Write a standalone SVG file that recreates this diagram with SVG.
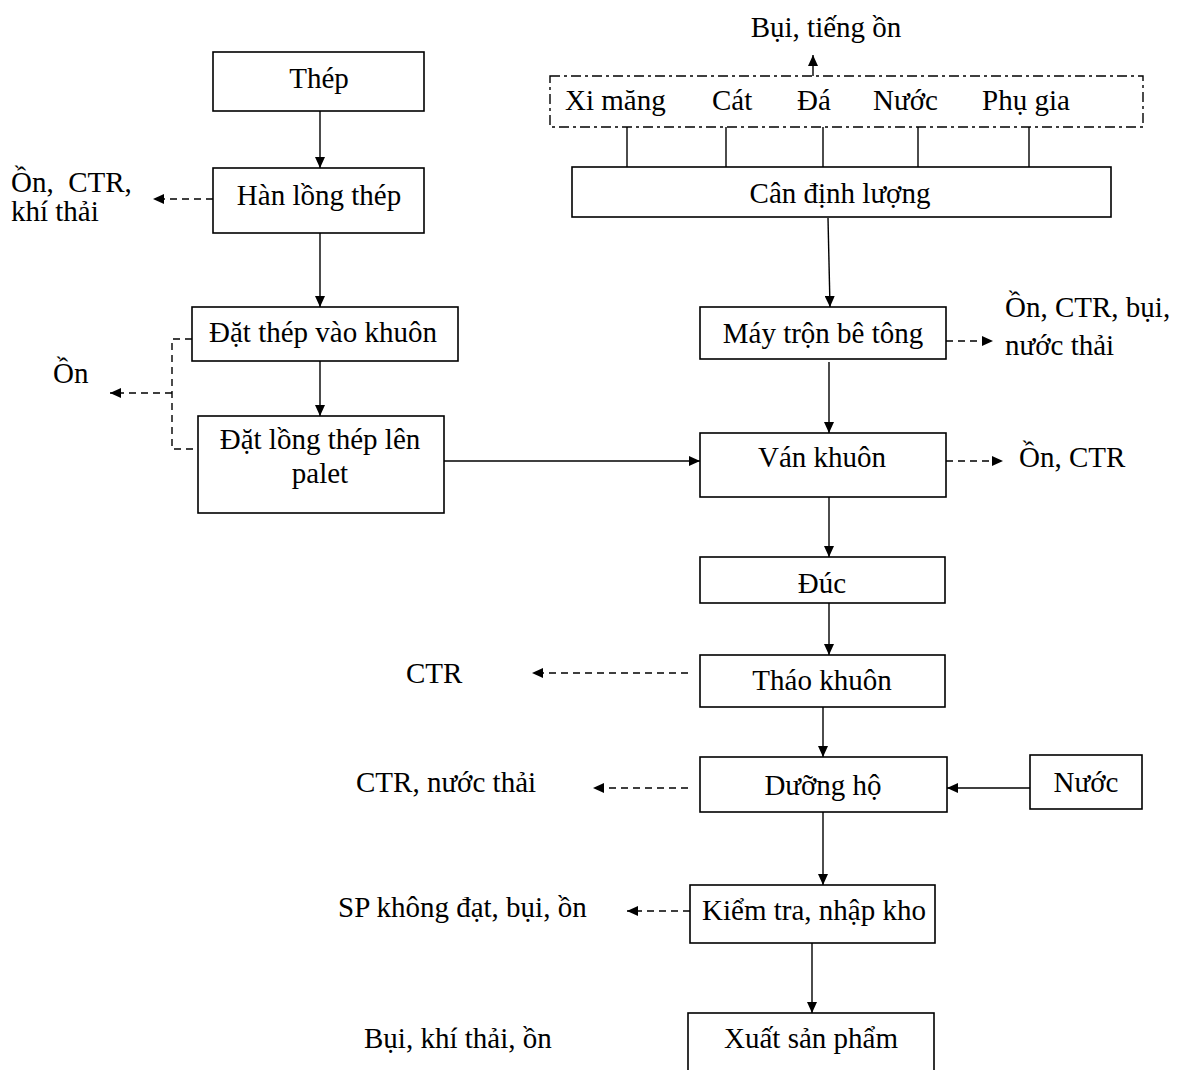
<svg xmlns="http://www.w3.org/2000/svg" width="1185" height="1070" viewBox="0 0 1185 1070">
<style>
.box{fill:#fff;stroke:#000;stroke-width:1.6}
.t{font-family:'Liberation Serif','DejaVu Serif',serif;font-size:29px;fill:#000}
.m{text-anchor:middle}
.ln{fill:none;stroke:#000;stroke-width:1.4}
.ds{fill:none;stroke:#000;stroke-width:1.4;stroke-dasharray:7 5}
.dd{fill:none;stroke:#000;stroke-width:1.4;stroke-dasharray:10 4 3 4}
</style>
<defs>
<marker id="ah" markerUnits="userSpaceOnUse" markerWidth="11" markerHeight="10" refX="11" refY="5" orient="auto">
<path d="M0,0 L11,5 L0,10 z" fill="#000"/>
</marker>
</defs>
<rect width="1185" height="1070" fill="#fff"/>
<g id="connectors">
<line class="ln" x1="320" y1="111" x2="320" y2="168" marker-end="url(#ah)"/>
<line class="ln" x1="320" y1="233" x2="320" y2="307" marker-end="url(#ah)"/>
<line class="ln" x1="320" y1="361" x2="320" y2="416" marker-end="url(#ah)"/>
<line class="ds" x1="213" y1="199" x2="153" y2="199" marker-end="url(#ah)"/>
<polyline class="ds" points="192,339 172,339 172,449 198,449"/>
<line class="ds" x1="172" y1="393" x2="110" y2="393" marker-end="url(#ah)"/>
<line class="ln" x1="444" y1="461" x2="700" y2="461" marker-end="url(#ah)"/>
<line class="ln" x1="813" y1="76" x2="813" y2="55" marker-end="url(#ah)"/>
<line class="ln" x1="627" y1="127" x2="627" y2="167"/>
<line class="ln" x1="726" y1="127" x2="726" y2="167"/>
<line class="ln" x1="823" y1="127" x2="823" y2="167"/>
<line class="ln" x1="918" y1="127" x2="918" y2="167"/>
<line class="ln" x1="1029" y1="127" x2="1029" y2="167"/>
<line class="ln" x1="828" y1="218" x2="830" y2="307" marker-end="url(#ah)"/>
<line class="ds" x1="946" y1="341" x2="993" y2="341" marker-end="url(#ah)"/>
<line class="ln" x1="829" y1="362" x2="829" y2="433" marker-end="url(#ah)"/>
<line class="ds" x1="946" y1="461" x2="1003" y2="461" marker-end="url(#ah)"/>
<line class="ln" x1="829" y1="497" x2="829" y2="557" marker-end="url(#ah)"/>
<line class="ln" x1="829" y1="603" x2="829" y2="655" marker-end="url(#ah)"/>
<line class="ds" x1="688" y1="673" x2="532" y2="673" marker-end="url(#ah)"/>
<line class="ln" x1="823" y1="702" x2="823" y2="757" marker-end="url(#ah)"/>
<line class="ds" x1="688" y1="788" x2="593" y2="788" marker-end="url(#ah)"/>
<line class="ln" x1="1030" y1="788" x2="947" y2="788" marker-end="url(#ah)"/>
<line class="ln" x1="823" y1="812" x2="823" y2="885" marker-end="url(#ah)"/>
<line class="ds" x1="690" y1="911" x2="627" y2="911" marker-end="url(#ah)"/>
<line class="ln" x1="812" y1="943" x2="812" y2="1013" marker-end="url(#ah)"/>
</g>
<g id="thep"><rect class="box" x="213" y="52" width="211" height="59"/><text class="t m" x="319" y="88">Thép</text></g>
<g id="han"><rect class="box" x="213" y="168" width="211" height="65"/><text class="t m" x="319" y="205">Hàn lồng thép</text></g>
<g id="han-out"><text class="t" x="11" y="192" xml:space="preserve">Ồn,  CTR,</text><text class="t" x="11" y="221">khí thải</text></g>
<g id="dat-thep"><rect class="box" x="192" y="307" width="266" height="54"/><text class="t m" x="323" y="342">Đặt thép vào khuôn</text></g>
<g id="on-left"><text class="t" x="53" y="383">Ồn</text></g>
<g id="dat-long"><rect class="box" x="198" y="416" width="246" height="97"/><text class="t m" x="320" y="449">Đặt lồng thép lên</text><text class="t m" x="320" y="483">palet</text></g>
<g id="bui-tieng-on"><text class="t m" x="826" y="37">Bụi, tiếng ồn</text></g>
<g id="nguyen-lieu"><rect x="550" y="76" width="593" height="51" fill="none" class="dd"/>
<text class="t" x="565" y="110">Xi măng</text><text class="t" x="712" y="110">Cát</text><text class="t" x="797" y="110">Đá</text><text class="t" x="873" y="110">Nước</text><text class="t" x="982" y="110">Phụ gia</text></g>
<g id="can"><rect class="box" x="572" y="167" width="539" height="50"/><text class="t m" x="840" y="203">Cân định lượng</text></g>
<g id="may-tron"><rect class="box" x="700" y="307" width="246" height="52"/><text class="t m" x="823" y="343">Máy trộn bê tông</text></g>
<g id="may-tron-out"><text class="t" x="1005" y="317">Ồn, CTR, bụi,</text><text class="t" x="1005" y="355">nước thải</text></g>
<g id="van-khuon"><rect class="box" x="700" y="433" width="246" height="64"/><text class="t m" x="822" y="467">Ván khuôn</text></g>
<g id="van-khuon-out"><text class="t" x="1019" y="467">Ồn, CTR</text></g>
<g id="duc"><rect class="box" x="700" y="557" width="245" height="46"/><text class="t m" x="822" y="593">Đúc</text></g>
<g id="thao-khuon"><rect class="box" x="700" y="655" width="245" height="52"/><text class="t m" x="822" y="690">Tháo khuôn</text></g>
<g id="ctr"><text class="t" x="406" y="683">CTR</text></g>
<g id="duong-ho"><rect class="box" x="700" y="757" width="247" height="55"/><text class="t m" x="823" y="795">Dưỡng hộ</text></g>
<g id="ctr-nuoc-thai"><text class="t" x="356" y="792">CTR, nước thải</text></g>
<g id="nuoc"><rect class="box" x="1030" y="755" width="112" height="54"/><text class="t m" x="1086" y="792">Nước</text></g>
<g id="kiem-tra"><rect class="box" x="690" y="885" width="245" height="58"/><text class="t m" x="814" y="920">Kiểm tra, nhập kho</text></g>
<g id="sp-khong-dat"><text class="t" x="338" y="917">SP không đạt, bụi, ồn</text></g>
<g id="xuat"><rect class="box" x="688" y="1013" width="246" height="70"/><text class="t m" x="811" y="1048">Xuất sản phẩm</text></g>
<g id="xuat-out"><text class="t" x="364" y="1048">Bụi, khí thải, ồn</text></g>
</svg>
